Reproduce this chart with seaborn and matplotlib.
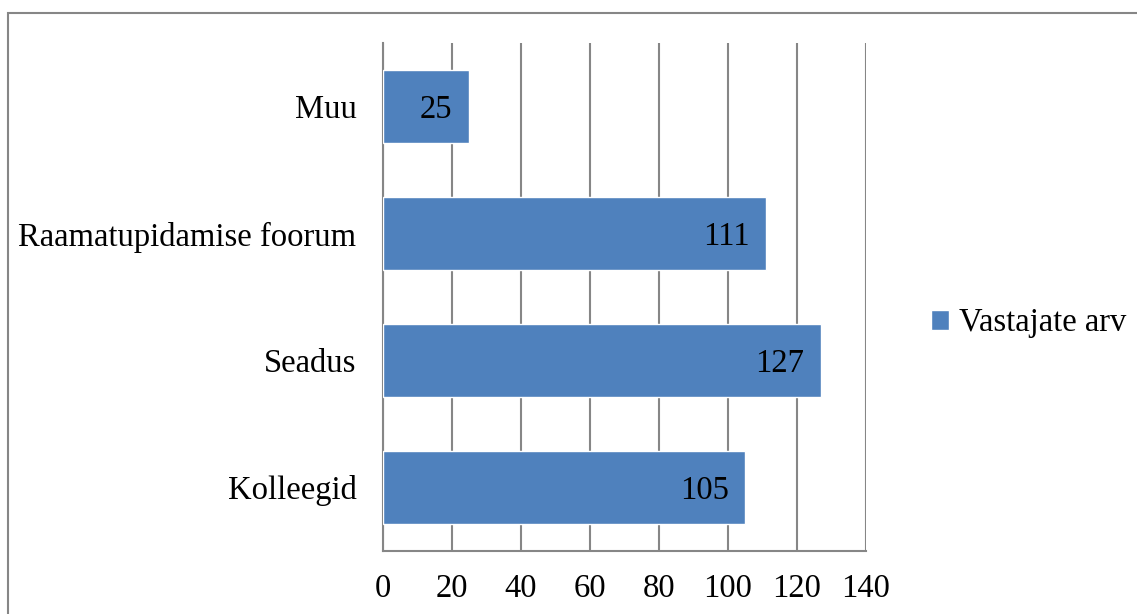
import pandas as pd
import matplotlib.pyplot as plt
import matplotlib.patches as mpatches
import seaborn as sns

# Data
categories = ["Muu", "Raamatupidamise foorum", "Seadus", "Kolleegid"]
values = [25, 111, 127, 105]
series_name = "Vastajate arv"
x_ticks = [0, 20, 40, 60, 80, 100, 120, 140]

bar_color = "#4F81BD"
grid_color = "#868686"

sns.set_theme(style="white")
plt.rcParams["font.family"] = ["Liberation Serif", "DejaVu Serif"]
plt.rcParams["text.color"] = "black"

df = pd.DataFrame({"category": categories, "value": values})

fig = plt.figure(figsize=(11.37, 6.14), dpi=100)
ax = fig.add_axes([383 / 1137, 1 - 551 / 614, 483 / 1137, 508 / 614])

sns.barplot(data=df, x="value", y="category", orient="h", color=bar_color,
            saturation=1, width=0.57, label=series_name, ax=ax, zorder=3)

# Axes styling
ax.set_xlim(0, 140)
ax.set_xticks(x_ticks)
ax.set_xlabel("")
ax.set_ylabel("")
ax.grid(axis="x", color=grid_color, linewidth=1.5, zorder=0)
ax.grid(axis="y", visible=False)
for side in ["top", "right"]:
    ax.spines[side].set_visible(False)
for side in ["left", "bottom"]:
    ax.spines[side].set_color(grid_color)
    ax.spines[side].set_linewidth(1.5)
ax.tick_params(axis="x", length=0, pad=16, labelsize=23.5, colors="black")
ax.tick_params(axis="y", length=0, pad=19, labelsize=23.5, colors="black")

# Value labels inside the bar ends
for i, v in enumerate(values):
    ax.annotate(str(v), xy=(v, i), xytext=(-12, 0), textcoords="offset points",
                ha="right", va="center_baseline", fontsize=23.5, color="black",
                zorder=4)

# Legend on the right
leg = ax.legend(loc="center left", bbox_to_anchor=(931 / 1137, 1 - 323 / 614),
                bbox_transform=fig.transFigure, frameon=False, fontsize=23.5,
                handlelength=0.55, handleheight=0.55, handletextpad=0.3,
                borderpad=0, borderaxespad=0)
for t in leg.get_texts():
    t.set_color("black")

# Outer chart border (right and bottom edges fall outside the image)
fig.patches.append(mpatches.Rectangle((8 / 1137, -0.2), 1.2, 1.2 - 13 / 614,
                                      transform=fig.transFigure, fill=False,
                                      edgecolor=grid_color, linewidth=1.5))

fig.savefig("out.png", dpi=100)
